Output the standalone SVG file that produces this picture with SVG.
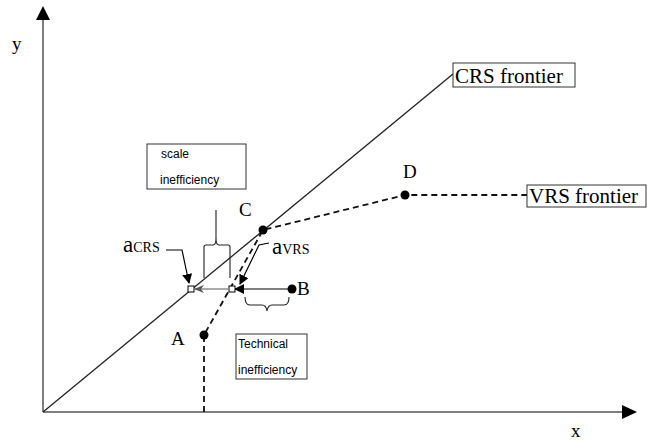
<svg xmlns="http://www.w3.org/2000/svg" width="647" height="441" viewBox="0 0 647 441">
<style>
.serif{font-family:"Liberation Serif","Times New Roman",serif;fill:#000}
.sans{font-family:"Liberation Sans",Arial,sans-serif;fill:#000;font-size:12px}
.box{fill:#fff;stroke:#333;stroke-width:1}
.dash{fill:none;stroke:#111;stroke-width:1.8;stroke-dasharray:6,4}
.pt{fill:#000}
</style>
<defs>
<marker id="ah" markerWidth="10" markerHeight="10" refX="9" refY="5" orient="auto" markerUnits="userSpaceOnUse">
<path d="M0,0 L10,5 L0,10 Z" fill="#000"/>
</marker>
<marker id="ahg" markerWidth="10" markerHeight="10" refX="9" refY="5" orient="auto" markerUnits="userSpaceOnUse">
<path d="M0,1 L10,5 L0,9 L3,5 Z" fill="#555"/>
</marker>
</defs>
<g id="axes">
<line x1="43" y1="412" x2="43" y2="20" stroke="#555" stroke-width="1.5"/>
<path d="M43,6 L50,20 L36,20 Z" fill="#000"/>
<line x1="43" y1="412" x2="622" y2="412" stroke="#555" stroke-width="1.5"/>
<path d="M637,412 L622,405 L622,419 Z" fill="#000"/>
<text class="serif" x="12" y="50" font-size="19">y</text>
<text class="serif" x="571" y="437" font-size="19">x</text>
</g>
<g id="connectors">
<line x1="43" y1="412" x2="453" y2="74" stroke="#222" stroke-width="1.3"/>
<path class="dash" d="M204,412 L204,335 L263,230 L405,195 L527,195"/>
<line x1="292" y1="289" x2="235" y2="289" stroke="#000" stroke-width="1.2" marker-end="url(#ah)"/>
<line x1="228" y1="289" x2="195" y2="289" stroke="#555" stroke-width="1.2" marker-end="url(#ahg)"/>
<polyline points="166,250 182,250 189,283" fill="none" stroke="#000" stroke-width="1.2" marker-end="url(#ah)"/>
<polyline points="269,243 259,245 240,284" fill="none" stroke="#000" stroke-width="1.2" marker-end="url(#ah)"/>
<path d="M204,278 L204,247 Q204,245 206,245 L213,245 Q216,245 216,238 L216,210 L216,238 Q216,245 219,245 L228,245 Q230,245 230,247 L230,278" fill="none" stroke="#222" stroke-width="1.1"/>
<path d="M245,297 Q245,305 250,305 L262,305 Q266,305 267,311 Q268,305 272,305 L284,305 Q289,305 289,297" fill="none" stroke="#222" stroke-width="1.1"/>
</g>
<g id="crs-frontier">
<rect class="box" x="453" y="63" width="122" height="24"/>
<text class="serif" x="455" y="83" font-size="21">CRS frontier</text>
</g>
<g id="vrs-frontier">
<rect class="box" x="527" y="185" width="119" height="22"/>
<text class="serif" x="529" y="203" font-size="21">VRS frontier</text>
</g>
<g id="point-A">
<circle class="pt" cx="204" cy="335" r="4.5"/>
<text class="serif" x="171" y="345" font-size="19">A</text>
</g>
<g id="point-B">
<circle class="pt" cx="292" cy="289" r="4.5"/>
<text class="serif" x="297" y="295" font-size="19">B</text>
</g>
<g id="point-C">
<circle class="pt" cx="263" cy="230" r="4.5"/>
<text class="serif" x="239" y="216" font-size="19">C</text>
</g>
<g id="point-D">
<circle class="pt" cx="405" cy="195" r="4.5"/>
<text class="serif" x="403" y="178" font-size="19">D</text>
</g>
<g id="a-crs">
<rect x="188" y="286" width="6" height="6" fill="#fff" stroke="#000" stroke-width="1"/>
<text class="serif" x="123" y="252" font-size="23">a<tspan font-size="14">CRS</tspan></text>
</g>
<g id="a-vrs">
<rect x="229" y="286" width="6" height="6" fill="#fff" stroke="#000" stroke-width="1"/>
<text class="serif" x="272" y="254" font-size="23">a<tspan font-size="14">VRS</tspan></text>
</g>
<g id="scale-inefficiency">
<rect class="box" x="147" y="144" width="99" height="45"/>
<text class="sans" x="161" y="158">scale</text>
<text class="sans" x="160" y="184">inefficiency</text>
</g>
<g id="technical-inefficiency">
<rect class="box" x="236" y="334" width="71" height="45"/>
<text class="sans" x="238" y="348">Technical</text>
<text class="sans" x="238" y="374">inefficiency</text>
</g>
</svg>
